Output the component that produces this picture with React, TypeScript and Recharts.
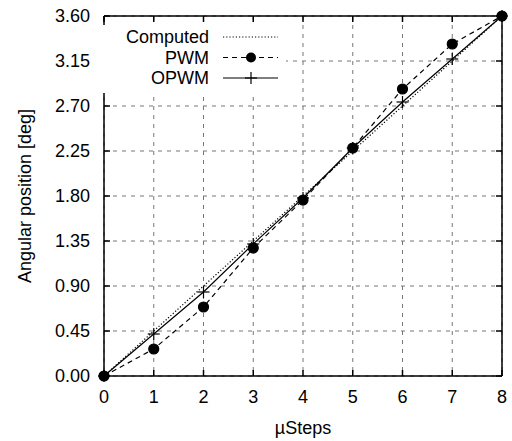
import { LineChart, Line, XAxis, YAxis, CartesianGrid } from 'recharts';

const steps = [0, 1, 2, 3, 4, 5, 6, 7, 8];
const computed = [0, 0.45, 0.9, 1.35, 1.8, 2.25, 2.7, 3.15, 3.6];
const pwm = [0, 0.27, 0.69, 1.28, 1.76, 2.28, 2.87, 3.32, 3.6];
const opwm = [0, 0.42, 0.84, 1.32, 1.78, 2.28, 2.74, 3.17, 3.6];
const yTicks = [0, 0.45, 0.9, 1.35, 1.8, 2.25, 2.7, 3.15, 3.6];
const legendNames = ['Computed', 'PWM', 'OPWM'];

const data = steps.map((s, i) => ({ s, computed: computed[i], pwm: pwm[i], opwm: opwm[i] }));

const FONT = '"Liberation Sans", Arial, sans-serif';

function Plus(props: any) {
  const { cx, cy } = props;
  if (cx == null || cy == null) return null;
  return (
    <g>
      <line x1={cx - 6} y1={cy} x2={cx + 6} y2={cy} stroke="#000" strokeWidth={1.2} />
      <line x1={cx} y1={cy - 6} x2={cx} y2={cy + 6} stroke="#000" strokeWidth={1.2} />
    </g>
  );
}

function LegendBox() {
  const dashes = ['1.2 2', '5 4', undefined];
  return (
    <svg width={185} height={68} style={{ display: 'block' }}>
      {legendNames.map((n, i) => {
        const y = 12 + i * 20.5;
        return (
          <g key={n}>
            <text x={108} y={y} textAnchor="end" dominantBaseline="central" fontSize={18} fontFamily={FONT} fill="#000">
              {n}
            </text>
            <line x1={122} x2={177} y1={y} y2={y} stroke="#000" strokeWidth={1.2} strokeDasharray={dashes[i]} />
            {i === 1 && <circle cx={150} cy={y} r={5} fill="#000" />}
            {i === 2 && <Plus cx={150} cy={y} />}
          </g>
        );
      })}
    </svg>
  );
}

const noLabel = () => <g />;

export default function App() {
  return (
    <div style={{ position: 'absolute', left: 0, top: 0, width: 512, height: 441, background: '#fff' }}>
      <LineChart width={512} height={441} data={data} margin={{ top: 15, right: 9, left: 0, bottom: 0 }}>
        <CartesianGrid stroke="#777" strokeDasharray="4 5" strokeWidth={1} />
        <XAxis
          dataKey="s"
          type="number"
          domain={[0, 8]}
          ticks={steps}
          height={65}
          stroke="#000"
          strokeWidth={1.5}
          tickSize={-6}
          tickMargin={20}
          tick={{ fontSize: 18, fontFamily: FONT, fill: '#000' }}
          label={({ viewBox }: any) => (
            <text x={viewBox.x + viewBox.width / 2} y={viewBox.y + 52} textAnchor="middle" dominantBaseline="central" fontSize={18} fontFamily={FONT} fill="#000">
              µSteps
            </text>
          )}
        />
        <XAxis
          xAxisId="top"
          orientation="top"
          dataKey="s"
          type="number"
          domain={[0, 8]}
          ticks={steps}
          height={1}
          stroke="#000"
          strokeWidth={1.5}
          tickSize={-6}
          tick={noLabel}
        />
        <YAxis
          type="number"
          domain={[0, 3.6]}
          ticks={yTicks}
          width={104}
          stroke="#000"
          strokeWidth={1.5}
          tickSize={-6}
          tickMargin={20}
          tickFormatter={(v: number) => v.toFixed(2)}
          tick={{ fontSize: 18, fontFamily: FONT, fill: '#000' }}
          label={({ viewBox }: any) => (
            <text
              x={viewBox.x + 25}
              y={viewBox.y + viewBox.height / 2}
              transform={`rotate(-90 ${viewBox.x + 25} ${viewBox.y + viewBox.height / 2})`}
              textAnchor="middle"
              dominantBaseline="central"
              fontSize={18}
              fontFamily={FONT}
              fill="#000"
            >
              Angular position [deg]
            </text>
          )}
        />
        <YAxis
          yAxisId="right"
          orientation="right"
          type="number"
          domain={[0, 3.6]}
          ticks={yTicks}
          width={1}
          stroke="#000"
          strokeWidth={1.5}
          tickSize={-6}
          tick={noLabel}
        />
        {/* invisible series so the mirrored top/right axes get drawn */}
        <Line xAxisId="top" yAxisId="right" dataKey="computed" stroke="none" dot={false} isAnimationActive={false} legendType="none" />
        <Line dataKey="computed" stroke="#000" strokeWidth={1.2} strokeDasharray="1.2 2" dot={false} type="linear" isAnimationActive={false} />
        <Line dataKey="pwm" stroke="#000" strokeWidth={1.2} strokeDasharray="5 4" dot={{ r: 5, fill: '#000', stroke: '#000', strokeDasharray: '' }} type="linear" isAnimationActive={false} />
        <Line dataKey="opwm" stroke="#000" strokeWidth={1.2} dot={<Plus />} type="linear" isAnimationActive={false} />
      </LineChart>
      <div style={{ position: 'absolute', left: 101, top: 25, background: '#fff' }}>
        <LegendBox />
      </div>
    </div>
  );
}
